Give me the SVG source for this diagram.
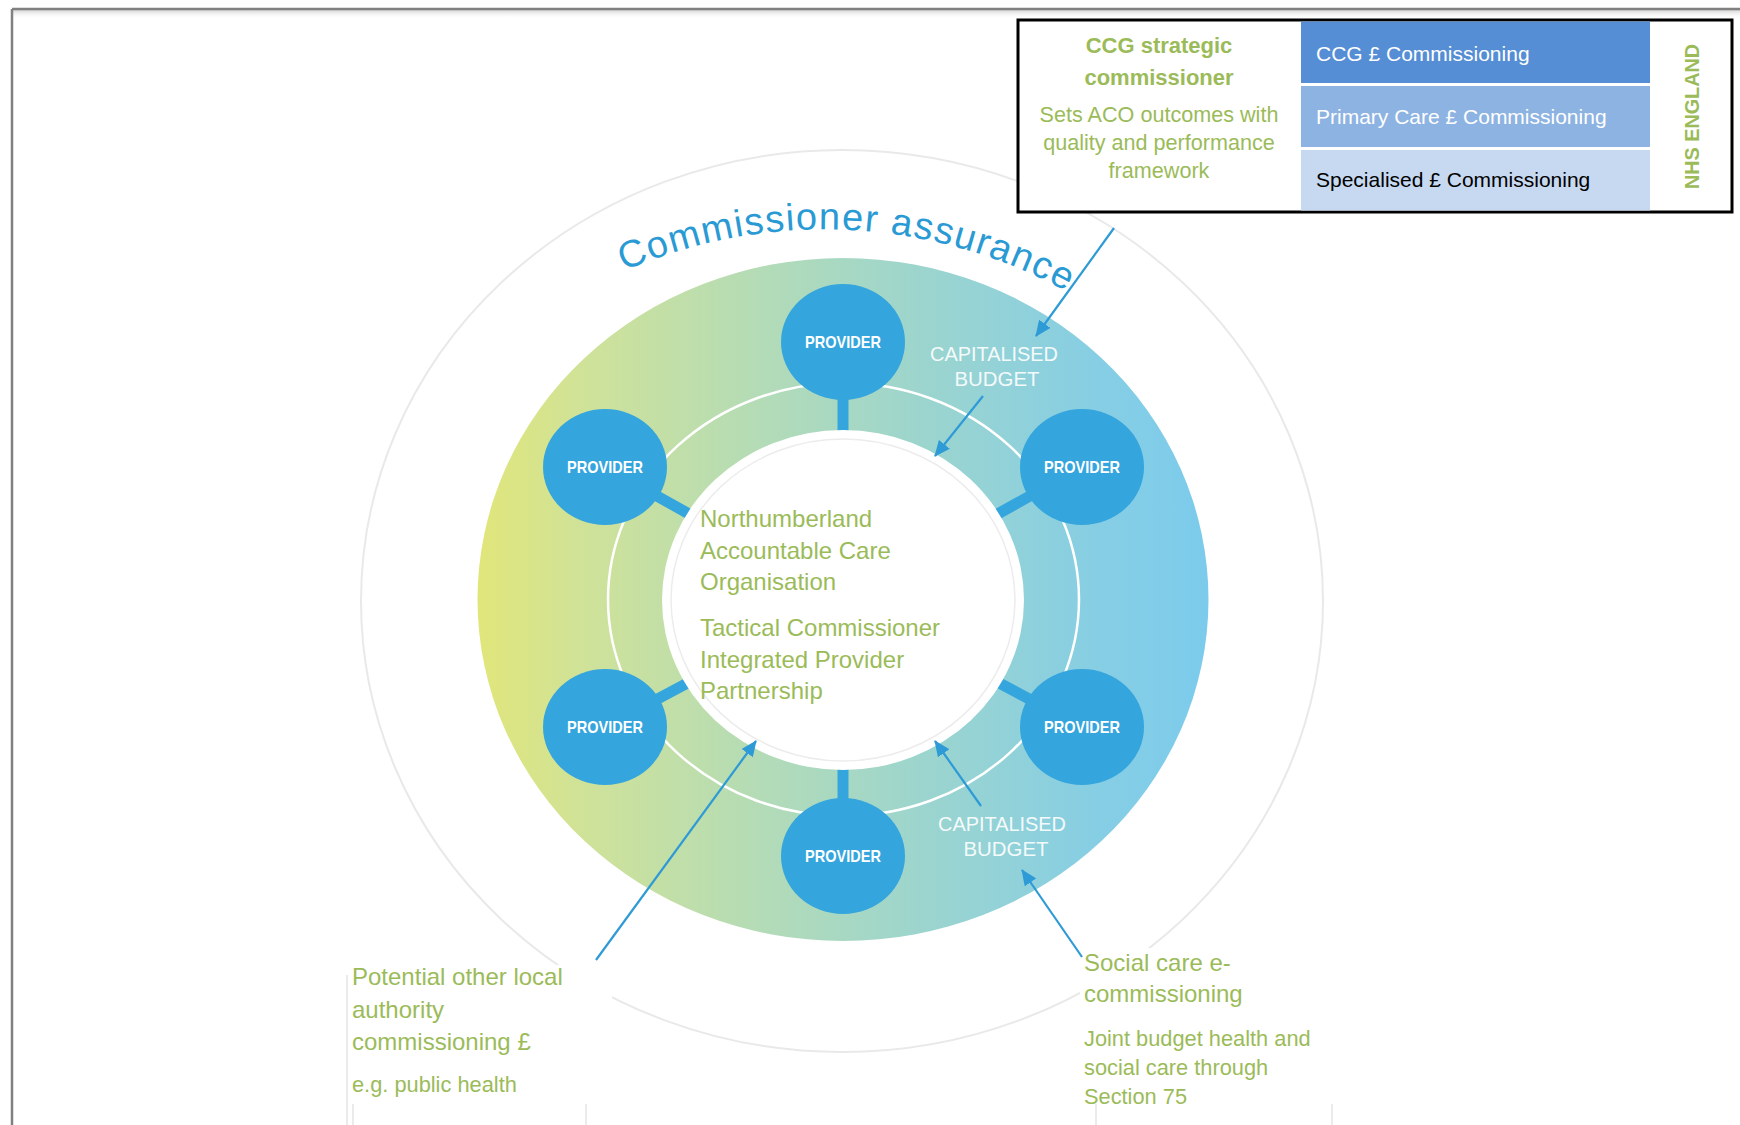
<svg xmlns="http://www.w3.org/2000/svg" width="1740" height="1125" viewBox="0 0 1740 1125">
  <defs>
    <linearGradient id="ringGrad" x1="477" y1="0" x2="1208" y2="0" gradientUnits="userSpaceOnUse">
      <stop offset="0" stop-color="#e1e67a"/>
      <stop offset="0.15" stop-color="#cfe299"/>
      <stop offset="0.4" stop-color="#b2dbb8"/>
      <stop offset="0.6" stop-color="#9dd5cd"/>
      <stop offset="0.85" stop-color="#86cee4"/>
      <stop offset="1" stop-color="#7ccbec"/>
    </linearGradient>
    <linearGradient id="frameShadow" x1="0" y1="0" x2="0" y2="1">
      <stop offset="0" stop-color="#d6d6d6"/>
      <stop offset="1" stop-color="#ffffff" stop-opacity="0"/>
    </linearGradient>
    <marker id="arrow" markerUnits="userSpaceOnUse" viewBox="0 0 16 14" markerWidth="16" markerHeight="14" refX="15" refY="7" orient="auto">
      <path d="M0,0 L16,7 L0,14 z" fill="#2e9ad6"/>
    </marker>
    <path id="arcText" d="M 624 271 A 503 503 0 0 1 1078 298"/>
  </defs>
  <style>
    .green { fill: #9bbb59; font-family: "Liberation Sans", Arial, sans-serif; }
    .big { font-size: 24px; }
    .small { font-size: 21.8px; }
    .prov { fill: #35a5dd; }
    .provtxt { fill: #ffffff; font-family: "Liberation Sans", Arial, sans-serif; font-weight: bold; font-size: 17px; text-anchor: middle; }
    .cap { fill: #f4fafa; font-family: "Liberation Sans", Arial, sans-serif; font-size: 20px; text-anchor: middle; }
    .bar { stroke: #35a5dd; stroke-width: 11; }
    .arr { stroke: #2e9ad6; stroke-width: 2.2; fill: none; marker-end: url(#arrow); }
    .cell { font-family: "Liberation Sans", Arial, sans-serif; font-size: 21px; }
    .faint { stroke: #e4e4e4; stroke-width: 1.5; fill: none; }
  </style>

  <rect x="0" y="0" width="1740" height="1125" fill="#ffffff"/>

  <!-- frame -->
  <rect x="12" y="10" width="1728" height="9" fill="url(#frameShadow)"/>
  <line x1="12" y1="9" x2="1740" y2="9" stroke="#808080" stroke-width="2.5"/>
  <line x1="12" y1="9" x2="12" y2="1125" stroke="#808080" stroke-width="2.5"/>

  <!-- background rings -->
  <ellipse cx="842" cy="601" rx="481" ry="451" fill="none" stroke="#e9e9e9" stroke-width="2"/>
  <ellipse cx="843" cy="599.5" rx="365.5" ry="341.5" fill="url(#ringGrad)"/>
  <ellipse cx="843.5" cy="599.5" rx="235.5" ry="216.5" fill="none" stroke="#ffffff" stroke-width="2.5"/>

  <!-- text box backgrounds covering outer ring -->
  <rect x="347" y="965" width="265" height="160" fill="#ffffff"/>
  <rect x="1080" y="948" width="260" height="177" fill="#ffffff"/>
  <line class="faint" x1="347" y1="975" x2="347" y2="1125"/>
  <line class="faint" x1="353" y1="1104" x2="353" y2="1125"/>
  <line class="faint" x1="586" y1="1104" x2="586" y2="1125"/>
  <line class="faint" x1="1096" y1="1104" x2="1096" y2="1125"/>
  <line class="faint" x1="1332" y1="1104" x2="1332" y2="1125"/>

  <!-- connectors -->
  <g id="connectors">
    <line class="bar" x1="843" y1="342" x2="843" y2="600"/>
    <line class="bar" x1="843" y1="856" x2="843" y2="600"/>
    <line class="bar" x1="605" y1="467" x2="843" y2="600"/>
    <line class="bar" x1="1082" y1="467" x2="843" y2="600"/>
    <line class="bar" x1="605" y1="727" x2="843" y2="600"/>
    <line class="bar" x1="1082" y1="727" x2="843" y2="600"/>
  </g>

  <!-- central organisation -->
  <g id="aco">
    <ellipse cx="843" cy="600" rx="181" ry="170" fill="#ffffff"/>
    <ellipse cx="843" cy="600" rx="172" ry="161" fill="none" stroke="#ececec" stroke-width="1.5"/>
    <text class="green big" x="700" y="527">Northumberland</text>
    <text class="green big" x="700" y="559">Accountable Care</text>
    <text class="green big" x="700" y="590">Organisation</text>
    <text class="green big" x="700" y="636">Tactical Commissioner</text>
    <text class="green big" x="700" y="668">Integrated Provider</text>
    <text class="green big" x="700" y="699">Partnership</text>
  </g>

  <!-- providers -->
  <g id="provider-top">
    <ellipse class="prov" cx="843" cy="342" rx="62" ry="58"/>
    <text class="provtxt" x="843" y="348" textLength="76" lengthAdjust="spacingAndGlyphs">PROVIDER</text>
  </g>
  <g id="provider-upper-left">
    <ellipse class="prov" cx="605" cy="467" rx="62" ry="58"/>
    <text class="provtxt" x="605" y="473" textLength="76" lengthAdjust="spacingAndGlyphs">PROVIDER</text>
  </g>
  <g id="provider-upper-right">
    <ellipse class="prov" cx="1082" cy="467" rx="62" ry="58"/>
    <text class="provtxt" x="1082" y="473" textLength="76" lengthAdjust="spacingAndGlyphs">PROVIDER</text>
  </g>
  <g id="provider-lower-left">
    <ellipse class="prov" cx="605" cy="727" rx="62" ry="58"/>
    <text class="provtxt" x="605" y="733" textLength="76" lengthAdjust="spacingAndGlyphs">PROVIDER</text>
  </g>
  <g id="provider-lower-right">
    <ellipse class="prov" cx="1082" cy="727" rx="62" ry="58"/>
    <text class="provtxt" x="1082" y="733" textLength="76" lengthAdjust="spacingAndGlyphs">PROVIDER</text>
  </g>
  <g id="provider-bottom">
    <ellipse class="prov" cx="843" cy="856" rx="62" ry="58"/>
    <text class="provtxt" x="843" y="862" textLength="76" lengthAdjust="spacingAndGlyphs">PROVIDER</text>
  </g>

  <!-- capitalised budget labels -->
  <g id="capitalised-budget-top">
    <text class="cap" x="994" y="361" textLength="128" lengthAdjust="spacingAndGlyphs">CAPITALISED</text>
    <text class="cap" x="997" y="386" textLength="85" lengthAdjust="spacingAndGlyphs">BUDGET</text>
  </g>
  <g id="capitalised-budget-bottom">
    <text class="cap" x="1002" y="831" textLength="128" lengthAdjust="spacingAndGlyphs">CAPITALISED</text>
    <text class="cap" x="1006" y="856" textLength="85" lengthAdjust="spacingAndGlyphs">BUDGET</text>
  </g>

  <!-- commissioner assurance -->
  <g id="commissioner-assurance">
    <text font-family="Liberation Sans, Arial, sans-serif" font-size="38" fill="#2a9ad5" letter-spacing="1.4">
      <textPath href="#arcText">Commissioner assurance</textPath>
    </text>
  </g>

  <!-- CCG / NHS England box -->
  <g id="ccg-box">
    <rect x="1018" y="20" width="714" height="192" fill="#ffffff" stroke="#000000" stroke-width="3"/>
    <rect x="1301" y="21.5" width="349" height="61.5" fill="#558ed5"/>
    <rect x="1301" y="86" width="349" height="61" fill="#8db3e2"/>
    <rect x="1301" y="150" width="349" height="60.5" fill="#c6d9f1"/>
    <text class="green" x="1159" y="53" font-size="22" font-weight="bold" text-anchor="middle">CCG strategic</text>
    <text class="green" x="1159" y="85" font-size="22" font-weight="bold" text-anchor="middle">commissioner</text>
    <text class="green" x="1159" y="122" font-size="21.6" text-anchor="middle">Sets ACO outcomes with</text>
    <text class="green" x="1159" y="150" font-size="21.6" text-anchor="middle">quality and performance</text>
    <text class="green" x="1159" y="178" font-size="21.6" text-anchor="middle">framework</text>
    <text class="cell" x="1316" y="61" fill="#ffffff">CCG £ Commissioning</text>
    <text class="cell" x="1316" y="124" fill="#ffffff">Primary Care £ Commissioning</text>
    <text class="cell" x="1316" y="187" fill="#000000">Specialised £ Commissioning</text>
    <text class="green" font-size="19.8" font-weight="bold" text-anchor="middle" transform="translate(1699 116.5) rotate(-90)">NHS ENGLAND</text>
  </g>

  <!-- arrows -->
  <g id="arrows">
    <line class="arr" x1="1114" y1="228" x2="1036" y2="336"/>
    <line class="arr" x1="983" y1="396" x2="935" y2="456"/>
    <line class="arr" x1="981" y1="806" x2="935" y2="741"/>
    <line class="arr" x1="1082" y1="957" x2="1022" y2="870"/>
    <line class="arr" x1="596" y1="960" x2="756" y2="741"/>
  </g>

  <!-- bottom labels -->
  <g id="local-authority">
    <text class="green big" x="352" y="985">Potential other local</text>
    <text class="green big" x="352" y="1018">authority</text>
    <text class="green big" x="352" y="1050">commissioning £</text>
    <text class="green small" x="352" y="1092">e.g. public health</text>
  </g>
  <g id="social-care">
    <text class="green big" x="1084" y="971">Social care e-</text>
    <text class="green big" x="1084" y="1002">commissioning</text>
    <text class="green small" x="1084" y="1046">Joint budget health and</text>
    <text class="green small" x="1084" y="1075">social care through</text>
    <text class="green small" x="1084" y="1104">Section 75</text>
  </g>
</svg>
